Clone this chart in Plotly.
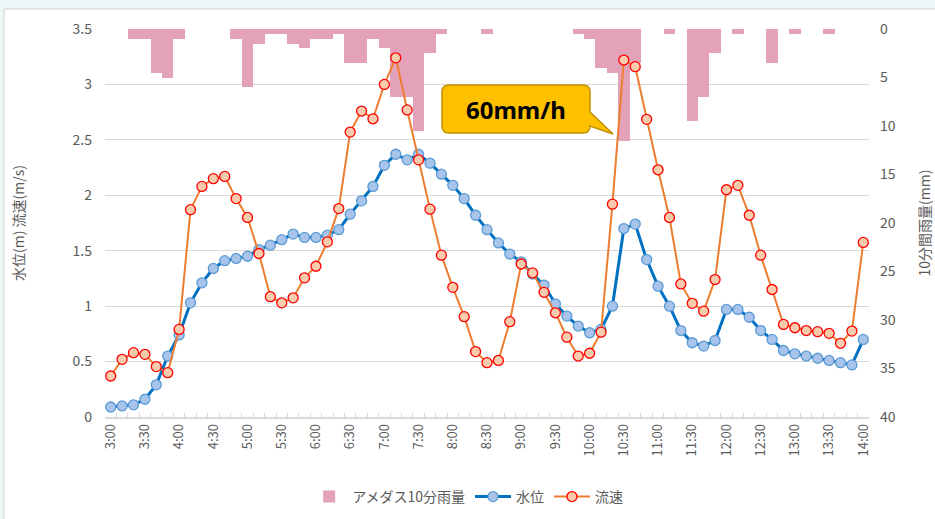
import plotly.graph_objects as go

# ---------------- data ----------------
times = ["3:00", "3:10", "3:20", "3:30", "3:40", "3:50",
         "4:00", "4:10", "4:20", "4:30", "4:40", "4:50",
         "5:00", "5:10", "5:20", "5:30", "5:40", "5:50",
         "6:00", "6:10", "6:20", "6:30", "6:40", "6:50",
         "7:00", "7:10", "7:20", "7:30", "7:40", "7:50",
         "8:00", "8:10", "8:20", "8:30", "8:40", "8:50",
         "9:00", "9:10", "9:20", "9:30", "9:40", "9:50",
         "10:00", "10:10", "10:20", "10:30", "10:40", "10:50",
         "11:00", "11:10", "11:20", "11:30", "11:40", "11:50",
         "12:00", "12:10", "12:20", "12:30", "12:40", "12:50",
         "13:00", "13:10", "13:20", "13:30", "13:40", "13:50",
         "14:00"]

tick_labels = ["3:00", "3:30", "4:00", "4:30", "5:00", "5:30", "6:00", "6:30",
               "7:00", "7:30", "8:00", "8:30", "9:00", "9:30", "10:00", "10:30",
               "11:00", "11:30", "12:00", "12:30", "13:00", "13:30", "14:00"]

rain = [0, 0, 1, 1, 4.5, 5, 1, 0, 0, 0,
        0, 1, 6, 1.5, 0.5, 0.5, 1.5, 2, 1, 1,
        0.5, 3.5, 3.5, 1, 2, 7, 7, 10.5, 2.5, 0.5,
        0, 0, 0, 0.5, 0, 0, 0, 0, 0, 0,
        0, 0.5, 1, 4, 4.5, 11.5, 3.5, 0, 0, 0.5,
        0, 9.5, 7, 2.5, 0, 0.5, 0, 0, 3.5, 0,
        0.5, 0, 0, 0.5, 0, 0, 0]

level = [0.09, 0.10, 0.11, 0.16, 0.29, 0.55, 0.74, 1.03, 1.21, 1.34,
         1.41, 1.43, 1.45, 1.51, 1.55, 1.60, 1.65, 1.62, 1.62, 1.64,
         1.69, 1.83, 1.95, 2.08, 2.27, 2.37, 2.32, 2.37, 2.29, 2.19,
         2.09, 1.97, 1.82, 1.69, 1.57, 1.47, 1.40, 1.29, 1.19, 1.02,
         0.91, 0.82, 0.76, 0.79, 1.00, 1.70, 1.74, 1.42, 1.18, 1.00,
         0.78, 0.67, 0.64, 0.69, 0.97, 0.97, 0.90, 0.78, 0.70, 0.60,
         0.57, 0.55, 0.53, 0.51, 0.49, 0.47, 0.70]

flow = [0.37, 0.52, 0.58, 0.565, 0.455, 0.40, 0.79, 1.87, 2.08, 2.15,
        2.17, 1.97, 1.80, 1.475, 1.085, 1.03, 1.075, 1.255, 1.36, 1.58,
        1.88, 2.57, 2.76, 2.69, 3.00, 3.24, 2.77, 2.32, 1.875, 1.46,
        1.17, 0.905, 0.59, 0.49, 0.51, 0.86, 1.38, 1.30, 1.125, 0.94,
        0.72, 0.55, 0.575, 0.765, 1.92, 3.22, 3.16, 2.685, 2.23, 1.80,
        1.20, 1.025, 0.955, 1.24, 2.05, 2.09, 1.82, 1.46, 1.15, 0.835,
        0.805, 0.78, 0.77, 0.755, 0.665, 0.775, 1.575]

callout_text = "60mm/h"

# ---------------- layout helpers ----------------
W, H = 935, 519
L, R, T, B = 105, 66, 29, 102
PW, PH = W - L - R, H - T - B


def px(x):
    return (x - L) / PW


def py(y):
    return (H - B - y) / PH


GRAY = "#595959"
FONT = "Noto Sans CJK JP, Noto Sans, sans-serif"

fig = go.Figure()

fig.add_trace(go.Bar(
    x=times, y=rain, name="アメダス10分雨量", yaxis="y",
    marker=dict(color="#E3A2BA", line=dict(width=0)),
))
fig.add_trace(go.Scatter(
    x=times, y=level, name="水位", yaxis="y2", mode="lines+markers",
    line=dict(color="#0070C0", width=3),
    marker=dict(size=10, color="#A9C4EB", line=dict(color="#5B9BD5", width=1.3)),
))
fig.add_trace(go.Scatter(
    x=times, y=flow, name="流速", yaxis="y2", mode="lines+markers",
    line=dict(color="#ED7D31", width=2),
    marker=dict(size=10, color="#F8CBAD", line=dict(color="#FF0000", width=1.3)),
))

ticktext = [t if t in tick_labels else "" for t in times]

# callout shape (rounded box + tail)
x0, x1, y0, y1, r = 442, 590, 85, 133, 7
pts = [
    ("M", (x0 + r, y0)), ("L", (x1 - r, y0)), ("Q", (x1, y0), (x1, y0 + r)),
    ("L", (x1, 112)), ("L", (613, 134)), ("L", (x1, 126)),
    ("Q", (x1, y1), (x1 - r, y1)), ("L", (x0 + r, y1)),
    ("Q", (x0, y1), (x0, y1 - r)), ("L", (x0, y0 + r)),
    ("Q", (x0, y0), (x0 + r, y0)),
]
path = ""
for item in pts:
    cmd = item[0]
    coords = " ".join(f"{px(a):.5f},{py(b):.5f}" for a, b in item[1:])
    path += f"{cmd} {coords} "
path += "Z"

fig.update_layout(
    width=W, height=H,
    margin=dict(l=L, r=R, t=T, b=B, autoexpand=False),
    paper_bgcolor="#EDF5F7",
    plot_bgcolor="rgba(0,0,0,0)",
    bargap=0,
    font=dict(family=FONT, color=GRAY, size=13),
    showlegend=True,
    legend=dict(orientation="h", x=0.474, xanchor="center", y=py(497), yanchor="middle",
                font=dict(size=14, color=GRAY), bgcolor="rgba(0,0,0,0)",
                itemwidth=36),
    xaxis=dict(
        type="category", range=[-0.5, 66.5], automargin=False,
        tickvals=times, ticktext=ticktext, tickangle=-90,
        tickson="boundaries", ticks="inside", ticklen=4, tickcolor="#D9D9D9",
        showline=True, linecolor="#D9D9D9", linewidth=1.5, showgrid=False,
        tickfont=dict(size=13, color=GRAY), fixedrange=True,
    ),
    yaxis=dict(
        side="right", range=[40, 0], dtick=5, tick0=0, showgrid=False, zeroline=False,
        showline=False, ticks="", ticklabelstandoff=10, automargin=False,
        tickfont=dict(size=14, color=GRAY),
        title=dict(text="10分間雨量(mm)", font=dict(size=14, color=GRAY), standoff=25),
    ),
    yaxis2=dict(
        overlaying="y", side="left", range=[0, 3.5], dtick=0.5, tick0=0,
        showgrid=True, gridcolor="#D9D9D9", gridwidth=1.2, zeroline=False,
        showline=False, ticks="", ticklabelstandoff=12, automargin=False,
        tickfont=dict(size=14, color=GRAY),
        title=dict(text="水位(m) 流速(m/s)", font=dict(size=14, color=GRAY), standoff=44),
    ),
    shapes=[
        dict(type="rect", xref="paper", yref="paper", layer="below",
             x0=px(4), x1=px(940), y0=py(9), y1=py(525),
             fillcolor="white", line=dict(color="#D0D0D0", width=1)),
        dict(type="path", xref="paper", yref="paper", layer="above", path=path,
             fillcolor="#FFC000", line=dict(color="#BF9000", width=1.5)),
    ],
    annotations=[
        dict(xref="paper", yref="paper", x=px(516), y=py(109), text=f"<b>{callout_text}</b>",
             showarrow=False, font=dict(size=24, color="black", family="Noto Sans, sans-serif"),
             xanchor="center", yanchor="middle"),
    ],
)

fig.write_html(
    "out.html",
    config={"displayModeBar": False},
    post_script="document.body.style.margin='0';document.body.style.padding='0';"
                "document.body.style.overflow='hidden';",
)
